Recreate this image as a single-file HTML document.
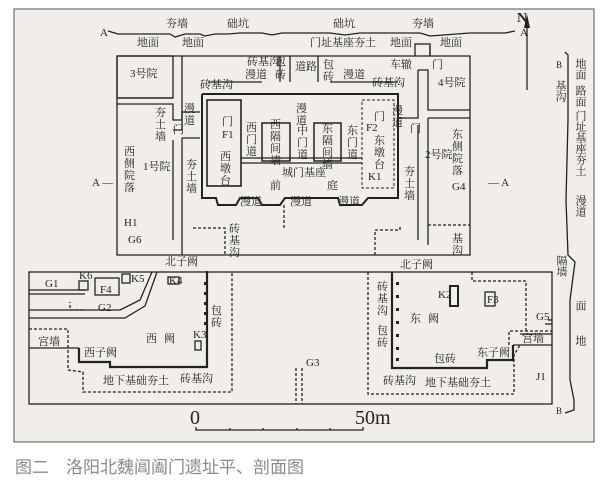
<!DOCTYPE html>
<html><head><meta charset="utf-8"><style>
html,body{margin:0;padding:0;background:#fff;}
svg{display:block}
text{font-family:"Liberation Serif","Noto Serif CJK SC",serif;font-size:11px;fill:#222}
.cap{font-family:"Liberation Sans","Noto Sans CJK SC",sans-serif;font-size:17px;fill:#8a8a8a}
</style></head><body>
<svg width="610" height="481" viewBox="0 0 610 481" xmlns="http://www.w3.org/2000/svg">
<rect x="0" y="0" width="610" height="481" fill="#fff"/>
<rect x="14" y="9" width="580" height="433" fill="#f1eeea" stroke="#555" stroke-width="1"/>
<g stroke="#222" fill="none" stroke-width="1.3">
<polyline points="108,31 118,34 170,34 175,37 185,34 200,34 205,36 215,34 228,34 240,33 262,33 272,35 282,33 300,33 330,33 345,35 360,33 400,33 420,33 430,36 470,33 490,33 505,33 515,31"/>
<polyline points="117,56 415,56"/>
<polyline points="117,56 117,255 470,255 470,118"/>
<rect x="117" y="56" width="56" height="42"/>
<polyline points="117,98 173,98"/>
<polyline points="117,104 173,104 173,120 182,120 182,56"/>
<polyline points="173,130 182,130 182,112 200,112"/>
<polyline points="182,138 200,138"/>
<polyline points="182,138 182,255"/>
<polyline points="173,140 173,240"/>
<polyline points="430,46 430,56 470,56 470,118"/>
<rect x="415" y="44" width="15" height="12"/>
<polyline points="418,70 428,70 428,110 470,110"/>
<polyline points="418,70 418,118 398,118"/>
<polyline points="428,118 428,245"/>
<polyline points="418,125 418,240"/>
<polyline points="428,118 470,118"/>
<polyline points="280,56 280,82"/><polyline points="318,56 318,82"/>
<polyline points="290,56 290,82"/>
<polyline points="202,94 398,94 398,198 368,198 362,205 340,205 338,198 285,198 280,205 262,205 258,198 240,198 236,205 218,205 216,198 202,198 202,94" stroke-width="2"/>
<polyline points="208,82 262,82"/>
<polyline points="330,82 398,82"/>
<rect x="207" y="100" width="34" height="86" stroke-width="1.6"/>
<rect x="362" y="100" width="32" height="88" stroke-width="1" stroke-dasharray="3,2"/>
<rect x="262" y="123" width="28" height="38" stroke-width="1.5"/>
<rect x="314" y="123" width="27" height="38" stroke-width="1.5"/>
<line x1="241" y1="158" x2="362" y2="158"/>
<line x1="241" y1="163" x2="362" y2="163"/>
<polyline stroke-dasharray="3,2" points="193,228 225,228 225,255"/>
<polyline stroke-dasharray="3,2" points="284,205 284,230"/>
<polyline stroke-dasharray="3,2" points="375,255 375,230 400,230 400,225"/>
<polyline stroke-dasharray="3,2" points="428,225 470,225"/>
<line x1="527" y1="28" x2="527" y2="90"/>
<polyline points="565,52 568,55 568,120 566,200 568,255 575,262 570,300 570,380 574,400 574,410 565,413"/>
<rect x="29" y="272" width="523" height="132"/>
<polyline points="29,290 85,290"/><polyline points="29,294 85,294"/>
<polyline points="29,310 120,310 140,300 152,272"/><polyline points="29,318 125,318 145,306 157,272"/>
<rect x="79" y="281" width="9" height="9"/><rect x="95" y="278" width="24" height="17"/><rect x="122" y="274" width="8" height="9"/>
<rect x="168" y="277" width="11" height="7"/><rect x="195" y="341" width="6" height="9"/>
<polyline stroke-width="2.2" points="207,271 207,367 110,367 110,362 79,362 79,348"/>
<polyline points="29,348 79,348"/>
<polyline stroke-dasharray="3,2" points="29,329 68,329 68,370 83,372 83,392 232,392 232,272"/>
<polyline stroke-dasharray="3,2" points="83,310 70,310 70,302"/>
<polyline stroke-dasharray="3,2" points="368,272 368,394 514,394 514,355 520,345"/>
<polyline stroke-width="2.2" points="392,272 392,368 487,368 487,360 513,360 513,345"/>
<polyline points="513,345 552,345"/><polyline points="520,334 552,334"/>
<polyline stroke-dasharray="3,2" points="509,345 509,331 552,331"/>
<rect x="450" y="286" width="8" height="20" stroke-width="2"/>
<rect x="485" y="292" width="10" height="14"/>
<polyline stroke-dasharray="3,2" points="472,272 472,281 526,281 526,331"/>
<polyline stroke-dasharray="3,2" points="296,368 296,404"/><polyline stroke-dasharray="3,2" points="302,368 302,404"/>
<line x1="548" y1="320" x2="552" y2="320"/><line x1="545" y1="324" x2="552" y2="324"/>
<polyline points="196,427 196,430 363,430 363,427"/>
<line x1="230" y1="430" x2="230" y2="428"/><line x1="263" y1="430" x2="263" y2="428"/><line x1="297" y1="430" x2="297" y2="428"/><line x1="330" y1="430" x2="330" y2="428"/>
</g>
<g fill="#222">
<rect x="204" y="282" width="3" height="3"/><rect x="204" y="292" width="3" height="3"/><rect x="204" y="302" width="3" height="3"/><rect x="204" y="312" width="3" height="3"/><rect x="204" y="322" width="3" height="3"/>
<rect x="396" y="282" width="3" height="3"/><rect x="396" y="295" width="3" height="3"/><rect x="396" y="308" width="3" height="3"/><rect x="396" y="321" width="3" height="3"/><rect x="396" y="334" width="3" height="3"/><rect x="396" y="347" width="3" height="3"/><rect x="396" y="358" width="3" height="3"/>
</g>
<polygon points="527,14 524,28 530,28" fill="#222"/>
<g fill="#222">
<text x="517" y="22" style="font-size:14px;font-weight:bold">N</text>
<text x="100" y="36">A</text><text x="520" y="36">A</text>
<text x="92" y="186">A —</text><text x="488" y="186">— A</text>
<text x="166" y="27">夯墙</text><text x="227" y="27">础坑</text><text x="333" y="27">础坑</text><text x="412" y="27">夯墙</text>
<text x="137" y="46">地面</text><text x="182" y="46">地面</text><text x="310" y="46">门址基座夯土</text><text x="390" y="46">地面</text><text x="440" y="46">地面</text>
<text x="130" y="77">3号院</text><text x="247" y="65">砖基沟</text><text x="245" y="78">漫道</text><text x="275" y="65">包</text><text x="275" y="78">砖</text>
<text x="295" y="70">道路</text><text x="323" y="68">包</text><text x="323" y="80">砖</text><text x="343" y="78">漫道</text><text x="372" y="86">砖基沟</text>
<text x="200" y="88">砖基沟</text><text x="390" y="68">车辙</text><text x="432" y="68">门</text><text x="438" y="86">4号院</text>
<text x="155" y="116">夯</text><text x="155" y="128">土</text><text x="155" y="140">墙</text>
<text x="184" y="112">漫</text><text x="184" y="124">道</text><text x="173" y="133">门</text>
<text x="222" y="125">门</text><text x="222" y="138">F1</text><text x="220" y="160">西</text><text x="220" y="172">墩</text><text x="220" y="184">台</text>
<text x="246" y="131">西</text><text x="246" y="143">门</text><text x="246" y="155">道</text>
<text x="270" y="128">西</text><text x="270" y="140">隔</text><text x="270" y="152">间</text><text x="270" y="164">墙</text>
<text x="296" y="112">漫</text><text x="296" y="124">道</text><text x="297" y="134">中</text><text x="297" y="146">门</text><text x="297" y="158">道</text>
<text x="322" y="132">东</text><text x="322" y="144">隔</text><text x="322" y="156">间</text><text x="322" y="168">墙</text>
<text x="347" y="134">东</text><text x="347" y="146">门</text><text x="347" y="158">道</text>
<text x="374" y="120">门</text><text x="366" y="131">F2</text><text x="374" y="144">东</text><text x="374" y="156">墩</text><text x="374" y="168">台</text>
<text x="368" y="180">K1</text><text x="410" y="132">门</text>
<text x="392" y="114">漫</text><text x="392" y="126">道</text>
<text x="282" y="176">城门基座</text><text x="270" y="189">前</text><text x="327" y="189">庭</text>
<text x="240" y="205">漫道</text><text x="290" y="205">漫道</text><text x="338" y="205">漫道</text>
<text x="124" y="155">西</text><text x="124" y="167">侧</text><text x="124" y="179">院</text><text x="124" y="191">落</text>
<text x="143" y="170">1号院</text><text x="186" y="168">夯</text><text x="186" y="180">土</text><text x="186" y="192">墙</text>
<text x="425" y="158">2号院</text><text x="452" y="138">东</text><text x="452" y="150">侧</text><text x="452" y="162">院</text><text x="452" y="174">落</text>
<text x="404" y="175">夯</text><text x="404" y="187">土</text><text x="404" y="199">墙</text><text x="452" y="190">G4</text>
<text x="452" y="242">基</text><text x="452" y="254">沟</text>
<text x="229" y="232">砖</text><text x="229" y="244">基</text><text x="229" y="256">沟</text>
<text x="124" y="226">H1</text><text x="128" y="243">G6</text>
<text x="165" y="265">北子阙</text><text x="400" y="268">北子阙</text>
<text x="45" y="287">G1</text><text x="79" y="279">K6</text><text x="100" y="293">F4</text><text x="131" y="282">K5</text><text x="98" y="311">G2</text>
<text x="169" y="284">K4</text><text x="211" y="314">包</text><text x="211" y="326">砖</text>
<text x="146" y="342">西</text><text x="164" y="342">阙</text><text x="193" y="338">K3</text><text x="38" y="345">宫墙</text>
<text x="84" y="356">西子阙</text><text x="103" y="384">地下基础夯土</text><text x="180" y="382">砖基沟</text>
<text x="306" y="366">G3</text>
<text x="377" y="290">砖</text><text x="377" y="302">基</text><text x="377" y="314">沟</text><text x="377" y="334">包</text><text x="377" y="346">砖</text>
<text x="410" y="322">东</text><text x="428" y="322">阙</text><text x="438" y="298">K2</text><text x="487" y="303">F3</text>
<text x="434" y="362">包砖</text><text x="477" y="356">东子阙</text><text x="522" y="342">宫墙</text><text x="536" y="320">G5</text>
<text x="383" y="384">砖基沟</text><text x="425" y="386">地下基础夯土</text><text x="536" y="380">J1</text>
<text x="190" y="424" style="font-size:20px">0</text><text x="355" y="424" style="font-size:20px">50m</text>
<text x="556" y="68" style="font-size:9px">B</text><text x="556" y="414" style="font-size:9px">B</text>
</g>
<g fill="#222">
<text x="580" y="58" style="writing-mode:vertical-rl">地面</text>
<text x="560" y="80" style="writing-mode:vertical-rl">基沟</text>
<text x="580" y="85" style="writing-mode:vertical-rl">路面 门址基座夯土</text>
<text x="580" y="195" style="writing-mode:vertical-rl">漫道</text>
<text x="561" y="255" style="writing-mode:vertical-rl">隔墙</text>
<text x="580" y="300" style="writing-mode:vertical-rl">面</text>
<text x="580" y="335" style="writing-mode:vertical-rl">地</text>
</g>
<text class="cap" x="15" y="473">图二　洛阳北魏阊阖门遗址平、剖面图</text>
</svg>
</body></html>
